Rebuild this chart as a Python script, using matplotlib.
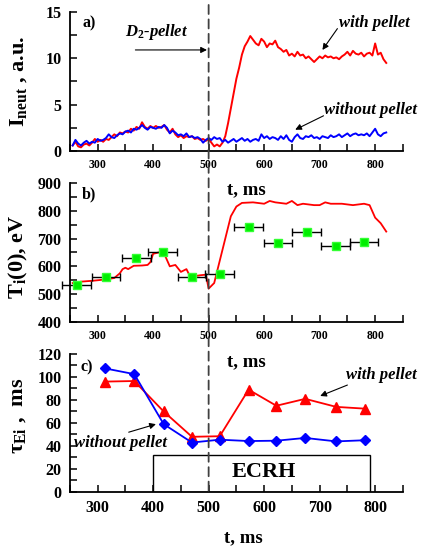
import numpy as np
import matplotlib
matplotlib.use('Agg')
from matplotlib import pyplot as plt
from matplotlib.patches import Rectangle, ConnectionPatch
from matplotlib.ticker import MultipleLocator, FuncFormatter


# a) neutron flux, 5 ms sampling
t_neut = np.arange(255, 821, 5)
neut_with = [
    0.6, 1.0, 0.5, 0.4, 0.7, 0.8, 0.6, 0.9, 1.3, 1.0,
    1.2, 1.0, 1.3, 1.2, 1.5, 1.8, 1.6, 2.0, 1.9, 2.1,
    2.0, 2.4, 2.2, 2.6, 2.4, 3.1, 2.6, 2.4, 2.7, 2.5,
    2.7, 2.5, 2.6, 2.8, 2.3, 2.0, 2.4, 1.8, 1.5, 1.7,
    1.4, 1.6, 1.5, 1.6, 1.3, 1.4, 1.2, 1.3, 1.1, 1.3,
    0.9, 0.5, 0.7, 0.5, 0.9, 1.6, 3.0, 4.6, 6.2, 7.8,
    9.0, 10.4, 11.3, 11.8, 12.4, 12.0, 11.6, 11.4, 12.1, 11.8,
    11.2, 11.6, 11.5, 11.9, 11.2, 11.0, 10.7, 10.9, 10.3, 10.5,
    10.2, 10.7, 10.3, 10.4, 10.0, 10.2, 9.9, 9.6, 9.9, 10.2,
    10.0, 10.3, 10.1, 10.2, 10.0, 10.1, 9.9, 10.2, 10.4, 10.7,
    10.3, 10.8, 10.5, 10.4, 10.6, 10.2, 10.5, 10.6, 10.3, 11.6,
    10.4, 10.6, 9.9, 9.5,
]
neut_without = [
    0.6, 1.2, 0.8, 0.6, 0.9, 1.1, 0.8, 1.0, 0.9, 1.3,
    1.1, 1.2, 1.4, 1.8, 1.5, 1.4, 1.7, 1.9, 1.8, 2.1,
    2.2, 2.0, 2.4, 2.3, 2.5, 2.8, 2.5, 2.3, 2.6, 2.5,
    2.4, 2.6, 2.5, 2.8, 2.5, 1.9, 2.2, 2.0, 1.7, 1.8,
    1.6, 1.9, 1.5, 1.6, 1.4, 1.5, 1.3, 0.9, 1.2, 1.4,
    1.2, 1.5, 1.3, 1.4, 1.0, 1.2, 0.9, 1.1, 1.3, 1.0,
    1.2, 1.4, 1.1, 1.3, 1.0, 1.2, 1.3, 1.1, 1.8, 1.4,
    1.6, 1.3, 1.5, 1.4, 1.2, 1.6, 1.3, 1.7, 1.2, 1.0,
    1.5, 1.8, 1.4, 1.3, 1.6, 1.5, 1.7, 1.4, 1.5, 1.3,
    1.6, 1.5, 1.4, 1.7, 1.5, 1.6, 1.8, 1.5, 1.7, 1.9,
    1.6, 1.8, 1.9, 1.7, 1.8, 1.7, 1.9, 1.6, 2.0, 2.4,
    1.8, 1.6, 1.9, 2.0,
]

# b) ion temperature
t_ti = [255, 270, 290, 310, 330, 340, 345, 350, 355, 365, 380, 390, 395,
        400, 410, 420, 430, 440, 450, 460, 465, 475, 485, 495, 500, 505,
        510, 520, 530, 540, 550, 560, 580, 600, 610, 620, 640, 650, 660,
        670, 690, 700, 710, 720, 740, 760, 780, 790, 800, 810, 820]
ti_line = [540, 545, 548, 552, 558, 575, 590, 595, 590, 602, 603, 605, 615,
           645, 650, 645, 600, 605, 580, 590, 570, 565, 568, 570, 520, 530,
           540, 620, 700, 780, 815, 828, 830, 825, 835, 830, 825, 835, 820,
           825, 820, 820, 830, 825, 825, 820, 825, 820, 775, 755, 725]
t_ti_pts = [262, 315, 370, 417, 470, 520, 572, 625, 677, 729, 780]
ti_pts = [533, 562, 630, 651, 562, 573, 741, 685, 722, 672, 687]
ti_dt = 26

# c) energy confinement time
t_tau = [313, 366, 419, 470, 520, 572, 622, 674, 730, 781]
tau_with = [96, 96.5, 70, 48, 48.5, 89, 75, 81, 74, 72.5]
tau_without = [107.5, 102.5, 59, 43, 45.5, 44.3, 44.6, 47, 44, 45]

pellet_time = 500
ecrh_start, ecrh_end, ecrh_level = 400, 790, 32


def style_axes(ax, ylim, ymajor, yminor, xfont):
    ax.patch.set_visible(False)
    ax.set_xlim(250, 850)
    ax.set_ylim(*ylim)
    for side in ('top', 'right'):
        ax.spines[side].set_visible(False)
    for side in ('left', 'bottom'):
        ax.spines[side].set_linewidth(1.3)
    ax.xaxis.set_major_locator(MultipleLocator(100))
    ax.xaxis.set_minor_locator(MultipleLocator(50))
    ax.yaxis.set_major_locator(MultipleLocator(ymajor))
    ax.yaxis.set_minor_locator(MultipleLocator(yminor))
    ax.xaxis.set_major_formatter(FuncFormatter(
        lambda v, p: f'{v:.0f}' if 250 < v < 850 else ''))
    ax.tick_params(which='both', direction='in', length=5, width=1.1)
    ax.tick_params(axis='y', labelsize=11.5, pad=6)
    ax.tick_params(axis='x', labelsize=xfont, pad=6)


def arrow(ax, tail, head):
    ax.annotate('', xy=head, xytext=tail,
                arrowprops=dict(arrowstyle='-|>', color='black', lw=0.8,
                                mutation_scale=9, shrinkA=0, shrinkB=0))


def main():
    plt.rcParams['font.family'] = ['Liberation Serif', 'DejaVu Serif']
    plt.rcParams['font.weight'] = 'bold'
    plt.rcParams['axes.labelweight'] = 'bold'
    plt.rcParams['mathtext.fontset'] = 'custom'
    plt.rcParams['mathtext.rm'] = 'Liberation Serif:bold'
    plt.rcParams['mathtext.it'] = 'Liberation Serif:italic:bold'
    plt.rcParams['mathtext.bf'] = 'Liberation Serif:bold'

    fig = plt.figure(figsize=(4.21, 5.52), dpi=100)
    ax1 = fig.add_axes([0.166, 0.7264, 0.791, 0.252])
    ax2 = fig.add_axes([0.166, 0.4167, 0.791, 0.252])
    ax3 = fig.add_axes([0.166, 0.1087, 0.791, 0.25])

    it = dict(fontsize=12, fontweight='bold', fontstyle='italic')
    ylab = dict(fontsize=16, fontweight='bold', va='center')
    xlab = dict(fontsize=13.5, fontweight='bold', va='center')

    # a)
    style_axes(ax1, (0, 15), 5, 2.5, 8.5)
    ax1.plot(t_neut, neut_with, color='red', lw=1.4)
    ax1.plot(t_neut, neut_without, color='blue', lw=1.4)
    ax1.text(272, 13.8, 'a)', fontsize=11.5, va='center')
    ax1.text(350, 12.8, r'D$_{\mathit{2}}$-pellet', ha='left', va='center', **it)
    arrow(ax1, (368, 10.9), (497, 10.9))
    ax1.text(734, 13.8, 'with pellet', ha='left', va='center', **it)
    arrow(ax1, (732, 13.2), (705, 10.9))
    ax1.text(708, 4.4, 'without pellet', ha='left', va='center',
             clip_on=False, **it)
    arrow(ax1, (707, 3.8), (656, 2.3))
    ax1.set_ylabel(r'I$_{\mathrm{neut}}$ , a.u.', **ylab)
    ax1.yaxis.set_label_coords(-0.155, 0.5)
    ax1.set_xlabel('t, ms', **xlab)
    ax1.xaxis.set_label_coords(0.53, -0.28)

    # b)
    style_axes(ax2, (400, 900), 100, 50, 8.5)
    ax2.plot(t_ti, ti_line, color='red', lw=1.3)
    eb = ax2.errorbar(t_ti_pts, ti_pts, xerr=ti_dt, fmt='s', color='black',
                      ecolor='black', elinewidth=1.0, capsize=3,
                      markersize=6, markerfacecolor='#00ee00',
                      markeredgecolor='#33ff33', zorder=3)
    for art in eb.lines[0:1] + tuple(eb.lines[1]) + tuple(eb.lines[2]):
        art.set_clip_on(False)
    ax2.text(272, 860, 'b)', fontsize=11.5, va='center')
    ax2.set_ylabel(r'T$_{\mathrm{i}}$(0), eV', **ylab)
    ax2.yaxis.set_label_coords(-0.155, 0.47)
    ax2.set_xlabel('t, ms', **xlab)
    ax2.xaxis.set_label_coords(0.53, -0.288)

    # c)
    style_axes(ax3, (0, 120), 20, 10, 11.5)
    ax3.plot(t_tau, tau_with, color='red', lw=1.3, marker='^',
             markersize=7)
    ax3.plot(t_tau, tau_without, color='blue', lw=1.3, marker='D',
             markersize=5.5)
    ax3.add_patch(Rectangle((ecrh_start, 0), ecrh_end - ecrh_start,
                            ecrh_level, fill=False, lw=1.0,
                            edgecolor='black'))
    ax3.text((ecrh_start + ecrh_end) / 2 + 5, ecrh_level / 2 + 1, 'ECRH',
             fontsize=16, ha='center', va='center')
    ax3.text(269, 108, 'c)', fontsize=11.5, va='center')
    ax3.text(748, 101.7, 'with pellet', ha='left', va='center', **it)
    arrow(ax3, (750, 93), (701, 83.5))
    ax3.text(257, 42.6, 'without pellet', ha='left', va='center', **it)
    arrow(ax3, (356, 52), (405, 59))
    ax3.set_ylabel(r'τ$_{\mathrm{Ei}}$ ,  ms', **ylab)
    ax3.yaxis.set_label_coords(-0.155, 0.55)
    ax3.set_xlabel('t, ms', **xlab)
    ax3.xaxis.set_label_coords(0.52, -0.333)

    # pellet injection time across all panels
    con = ConnectionPatch(xyA=(pellet_time, 15.75), coordsA=ax1.transData,
                          xyB=(pellet_time, 1), coordsB=ax3.transData,
                          color='#404040', lw=1.3, linestyle=(0, (5, 3)))
    fig.add_artist(con)

    fig.savefig('out.png', dpi=100)


if __name__ == '__main__':
    main()
